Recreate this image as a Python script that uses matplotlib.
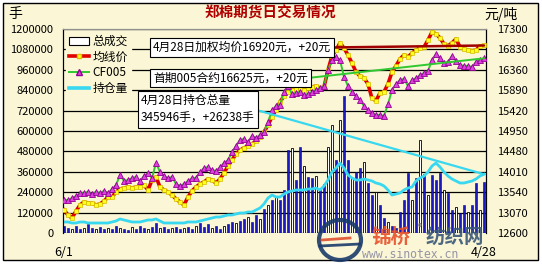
import numpy as np
import matplotlib.pyplot as plt
from matplotlib.patches import Patch, Rectangle, Ellipse
from matplotlib.lines import Line2D

plt.rcParams['font.family'] = ['Noto Sans CJK SC', 'DejaVu Sans']

# datos (6/1 - 4/28)
fechas = ['6/1', '4/28']

# 均线价 (元/吨)
junxian = [13130, 13015, 12945, 13105, 13245, 13315, 13290, 13290, 13245, 13270,
           13335, 13430, 13430, 13545, 13615, 13635, 13660, 13635, 13660, 13660,
           13705, 13590, 13820, 13890, 13660, 13590, 13545, 13475, 13385, 13315,
           13245, 13430, 13570, 13660, 13730, 13775, 13845, 13820, 13750, 13845,
           13980, 14145, 14280, 14420, 14510, 14560, 14605, 14650, 14720, 14810,
           14925, 15090, 15275, 15435, 15620, 15755, 15850, 15895, 15920, 15940,
           15895, 15940, 15965, 15985, 15940, 15965, 16355, 16680, 16815, 16980,
           16860, 16700, 16515, 16310, 16215, 16170, 16035, 15700, 15650, 15825,
           15850, 16035, 16310, 16450, 16610, 16700, 16655, 16745, 16815, 16860,
           16885, 17045, 17230, 17185, 17095, 16955, 16910, 16980, 17070, 16885,
           16840, 16815, 16795, 16815, 16910, 16920]

# CF005 (元/吨)
cf005 = [13360, 13360, 13405, 13450, 13520, 13520, 13545, 13500, 13545, 13520,
         13570, 13520, 13615, 13705, 13935, 13800, 13820, 13865, 13890, 13800,
         13915, 13980, 13865, 14215, 14005, 13915, 13865, 13890, 13730, 13685,
         13730, 13800, 13865, 13865, 14005, 14100, 14120, 14050, 14030, 14120,
         14215, 14280, 14465, 14605, 14745, 14765, 14695, 14835, 14790, 14860,
         14925, 15155, 15435, 15525, 15550, 15850, 15985, 15805, 15825, 15850,
         15780, 15805, 15850, 15895, 15940, 15985, 16355, 16585, 16655, 16585,
         16195, 15985, 15850, 15755, 15665, 15525, 15435, 15365, 15320, 15320,
         15295, 15570, 15895, 16035, 16125, 16150, 15985, 16125, 16170, 16240,
         16285, 16330, 16585, 16725, 16630, 16515, 16540, 16680, 16565, 16470,
         16450, 16450, 16425, 16540, 16585, 16625]

# 持仓量 (手)
chicang = [64700, 64700, 58800, 58800, 64700, 64700, 58800, 58800, 58800, 58800,
           58800, 58800, 64700, 70600, 82400, 76500, 70600, 64700, 64700, 64700,
           70600, 76500, 76500, 82400, 70600, 58800, 58800, 58800, 58800, 58800,
           58800, 64700, 64700, 64700, 70600, 76500, 82400, 88200, 94100, 94100,
           100000, 105900, 105900, 111800, 117600, 117600, 123500, 123500, 135300, 147100,
           170600, 205900, 223500, 211800, 211800, 229400, 241200, 247000, 252900, 252900,
           252900, 258800, 258800, 264700, 252900, 276500, 311800, 358800, 382300, 411700,
           382300, 341200, 323500, 311800, 311800, 317600, 311800, 305900, 294100, 288200,
           276500, 252900, 223500, 229400, 235300, 252900, 264700, 270600, 305900, 323500,
           335300, 358800, 394100, 411700, 388200, 358800, 335300, 317600, 305900, 294100,
           294100, 300000, 305900, 317600, 335300, 345946]

# 总成交 (手)
chengjiao = [41200, 29400, 23500, 41200, 23500, 29400, 52900, 29400, 23500, 35300,
             23500, 29400, 23500, 41200, 29400, 23500, 17600, 35300, 23500, 41200,
             29400, 23500, 35300, 58800, 29400, 35300, 23500, 29400, 35300, 23500,
             29400, 35300, 23500, 41200, 58800, 35300, 52900, 29400, 41200, 23500,
             41200, 52900, 64700, 58800, 70600, 82400, 94100, 64700, 105900, 82400,
             141200, 164700, 194100, 217600, 194100, 252900, 488200, 500000, 311800, 505900,
             394100, 329400, 323500, 335300, 252900, 288200, 505900, 635300, 429400, 664700,
             805800, 429400, 323500, 358800, 382300, 417600, 294100, 223500, 241200, 164700,
             88200, 64700, 41200, 29400, 123500, 194100, 352900, 194100, 323500, 547000,
             347100, 223500, 341200, 311800, 352900, 252900, 235300, 135300, 152900, 117600,
             164700, 123500, 164700, 294100, 135300, 300000]
# 1 = 空心柱
kongxin = [0, 0, 1, 0, 0, 1, 0, 0, 1, 0, 0, 1, 0, 0, 1, 0, 0, 1, 0, 0,
           0, 1, 0, 0, 1, 0, 0, 1, 0, 0, 1, 0, 0, 1, 0, 0, 0, 1, 0, 0,
           1, 0, 0, 1, 0, 0, 1, 0, 0, 1, 0, 1, 0, 1, 0, 0, 0, 1, 0, 0,
           1, 0, 0, 1, 0, 0, 1, 1, 0, 1, 0, 0, 1, 0, 0, 1, 0, 0, 1, 0,
           0, 1, 0, 0, 0, 0, 0, 1, 0, 1, 0, 1, 0, 0, 0, 1, 0, 0, 1, 0,
           0, 1, 0, 0, 1, 0]

vol_ticks = [0, 120000, 240000, 360000, 480000, 600000, 720000,
             840000, 960000, 1080000, 1200000]
price_ticks = [12600, 13070, 13540, 14010, 14480, 14950, 15420,
               15890, 16360, 16830, 17300]

bg = '#FAF6D6'
n = len(junxian)
x = np.arange(n)

fig = plt.figure(figsize=(5.42, 2.64), dpi=100, facecolor='white')
fig.add_artist(Rectangle((3 / 542, 4 / 264), 535 / 542, 257 / 264,
                         transform=fig.transFigure, facecolor=bg,
                         edgecolor='black', lw=1, zorder=-5))

ax1 = fig.add_axes([63 / 542, 31 / 264, 423 / 542, 204 / 264])
ax1.set_facecolor(bg)
ax2 = ax1.twinx()

# barras de volumen
kx = np.array(kongxin) == 1
vol = np.array(chengjiao)
ax1.bar(x[~kx], vol[~kx], width=0.5, color='#1A1AC0', edgecolor='#000080',
        lw=0.4, zorder=2)
ax1.bar(x[kx], vol[kx], width=0.5, color='white', edgecolor='black',
        lw=0.6, zorder=2)
ax1.plot(x, chicang, color='#38D8F0', lw=2.0, zorder=3)

ax1.set_xlim(-0.25, n - 0.5)
ax1.set_ylim(0, 1200000)
ax1.set_yticks(vol_ticks)
ax1.set_yticklabels([str(v) for v in vol_ticks])
ax1.yaxis.grid(True, color='black', lw=0.9, zorder=0)
ax1.set_axisbelow(True)
ax1.set_xticks([0, n - 1])
ax1.set_xticklabels(fechas)
ax1.tick_params(axis='y', length=0, pad=7, labelsize=8)
ax1.tick_params(axis='x', length=0, pad=9, labelsize=9)

ax2.plot(x, junxian, color='#E00000', lw=2.6, marker='s', ms=2.6,
         mfc='#FFFF20', mec='#D8C000', mew=0.5, zorder=4)
ax2.plot(x, cf005, color='#30C830', lw=1.4, marker='^', ms=4.5,
         mfc='#E040E0', mec='#900090', mew=0.6, zorder=5)
ax2.set_ylim(12600, 17300)
ax2.set_yticks(price_ticks)
ax2.set_yticklabels([str(v) for v in price_ticks])
ax2.tick_params(axis='y', length=0, pad=8, labelsize=8)

for ax in (ax1, ax2):
    ax.spines['bottom'].set_visible(False)
    ax.spines['top'].set_color('#909090')
    ax.spines['left'].set_color('black')
    ax.spines['right'].set_color('black')

# leyenda
handles = [Patch(facecolor='white', edgecolor='black', lw=0.8),
           Line2D([], [], color='#E00000', lw=2.6, marker='s', ms=3,
                  mfc='#FFFF20', mec='#D8C000'),
           Line2D([], [], color='#30C830', lw=1.4, marker='^', ms=4.5,
                  mfc='#E040E0', mec='#900090'),
           Line2D([], [], color='#38D8F0', lw=2.6)]
leg = ax2.legend(handles, ['总成交', '均线价', 'CF005', '持仓量'],
                 loc='upper left', bbox_to_anchor=(66 / 542, 1 - 32 / 264),
                 bbox_transform=fig.transFigure, fontsize=8.5, frameon=True,
                 facecolor=bg, edgecolor=bg, framealpha=1, fancybox=False,
                 handlelength=1.7, handletextpad=0.3, labelspacing=0.22,
                 borderpad=0.25, borderaxespad=0)
leg.set_zorder(10)

# anotaciones
caja = dict(boxstyle='square,pad=0.25', fc='white', ec='black', lw=0.8)
ax2.annotate('4月28日加权均价16920元，+20元', xy=(n - 1, junxian[-1]),
             xytext=(153, 264 - 47.5), textcoords='figure pixels',
             ha='left', va='center', fontsize=8.5, bbox=caja, zorder=11,
             arrowprops=dict(arrowstyle='-', color='#A00000', lw=1.8,
                             relpos=(1, 0.5), shrinkA=0, shrinkB=0))
ax2.annotate('首期005合约16625元，+20元', xy=(n - 1, cf005[-1]),
             xytext=(153, 264 - 78), textcoords='figure pixels',
             ha='left', va='center', fontsize=8.5, bbox=caja, zorder=11,
             arrowprops=dict(arrowstyle='-', color='#30C830', lw=1.4,
                             relpos=(1, 0.5), shrinkA=0, shrinkB=0))
ax2.annotate('4月28日持仓总量\n345946手，+26238手', xy=(n - 1, chicang[-1]),
             xycoords=ax1.transData,
             xytext=(141, 264 - 109.5), textcoords='figure pixels',
             ha='left', va='center', fontsize=8.5, bbox=caja, zorder=11,
             linespacing=1.5,
             arrowprops=dict(arrowstyle='-', color='#38D8F0', lw=1.6,
                             relpos=(1, 0.5), shrinkA=0, shrinkB=0))

# titulos
fig.text(270 / 542, 1 - 13 / 264, '郑棉期货日交易情况', ha='center', va='center',
         fontsize=10.5, fontweight='bold', color='#B00000')
fig.text(8 / 542, 1 - 14 / 264, '手', ha='left', va='center', fontsize=10)
fig.text(484 / 542, 1 - 14 / 264, '元/吨', ha='left', va='center', fontsize=10)

# marca de agua
wm = fig.add_axes([0, 0, 1, 1], zorder=20)
wm.set_xlim(0, 542)
wm.set_ylim(264, 0)
wm.axis('off')
wm.patch.set_visible(False)
wm.add_patch(Ellipse((340, 240), 42, 40, fill=False, ec='#1A3A6A', lw=3, alpha=0.9))
wm.plot([322, 350], [240, 238], color='#E05030', lw=2, alpha=0.9)
wm.plot([320, 360], [246, 244], color='#1A3A6A', lw=2, alpha=0.9)
wm.text(372, 237, '锦桥', color='#E8502A', fontsize=14, fontweight='bold',
        ha='left', va='center', alpha=0.9)
wm.text(418, 228, '®', color='#707070', fontsize=6, ha='left', va='center')
wm.text(426, 237, '纺织网', color='#3A5878', fontsize=14, fontweight='bold',
        ha='left', va='center', alpha=0.9)
wm.text(362, 255, 'www.sinotex.cn', color='#8A8AA0', fontsize=8.3,
        family='DejaVu Sans Mono', ha='left', va='center', alpha=0.9)

plt.savefig('out.png', dpi=100, facecolor='white')
